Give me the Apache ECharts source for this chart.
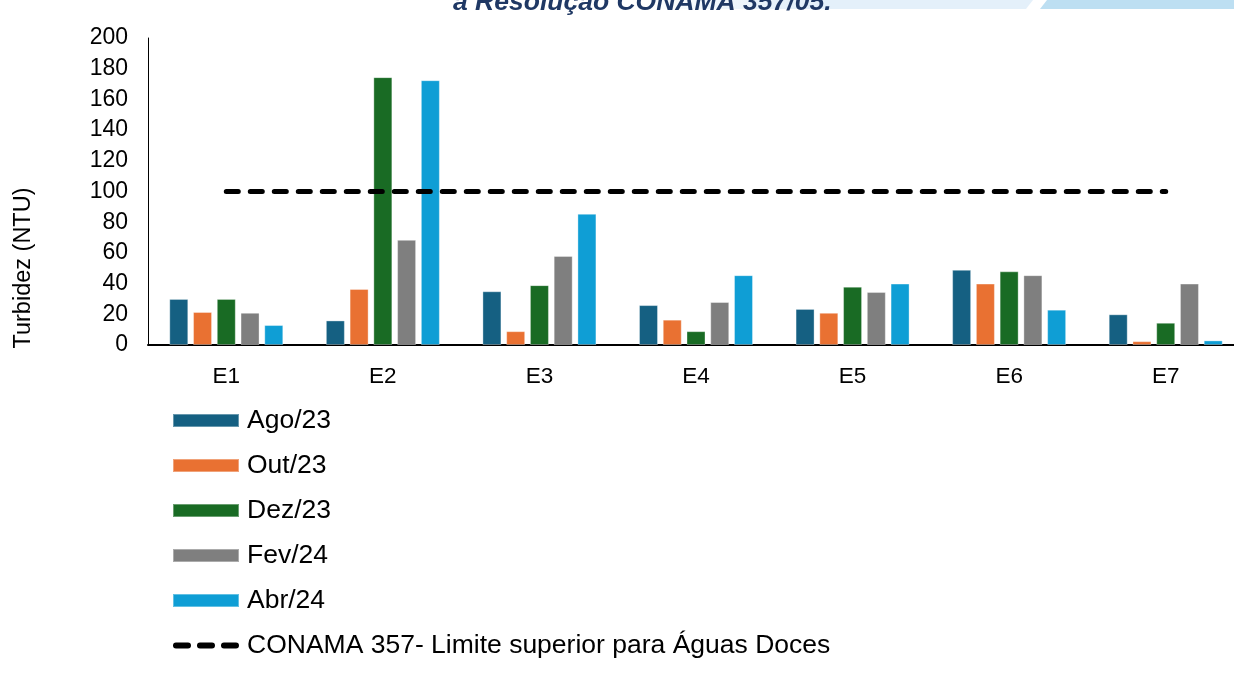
<!DOCTYPE html>
<html lang="pt">
<head>
    <meta charset="UTF-8">
    <title>Turbidez</title>
    <script type="text/javascript" src="https://cdn.jsdelivr.net/npm/echarts@6/dist/echarts.min.js"></script>
    <style>
        html, body { margin: 0; background: #fff; overflow: hidden; }
        #main { width: 1244px; height: 682px; }
    </style>
</head>
<body>
<div id="main"></div>
<script type="text/javascript">
    // estacoes e campanhas
    var estacoes = ['E1', 'E2', 'E3', 'E4', 'E5', 'E6', 'E7'];
    var ago23 = [30, 16, 35, 26, 23.5, 49, 20];
    var out23 = [21.5, 36.5, 9, 16.5, 21, 40, 2.5];
    var dez23 = [30, 174.5, 39, 9, 38, 48, 14.5];
    var fev24 = [21, 68.5, 58, 28, 34.5, 45.5, 40];
    var abr24 = [13, 172.5, 85.5, 45.5, 40, 23, 3];
    var conama = [100, 100, 100, 100, 100, 100, 100];
    var yTicks = [0, 200, 20]; // min, max, intervalo

    var font = 'Liberation Sans, Arial, sans-serif';

    // icone tracejado da legenda (3 tracos com pontas redondas)
    var tracos = 'path://M0,0L0.01,0L0,0Z M0,13L0.01,13L0,13Z' +
        ' M3,3.5h12a3,3 0 0 1 0,6h-12a3,3 0 0 1 0,-6z' +
        ' M27,3.5h12a3,3 0 0 1 0,6h-12a3,3 0 0 1 0,-6z' +
        ' M51,3.5h12a3,3 0 0 1 0,6h-12a3,3 0 0 1 0,-6z' +
        ' M66,0L66.01,0L66,0Z';

    function barra(nome, dados, cor) {
        return {
            name: nome,
            type: 'bar',
            data: dados,
            barWidth: 19,
            barGap: '25%',
            itemStyle: { color: cor, borderColor: 'rgba(255,255,255,0.35)', borderWidth: 1 }
        };
    }

    var chart = echarts.init(document.getElementById('main'));

    var option = {
        animation: false,
        textStyle: { fontFamily: font },
        grid: { left: 148, top: 38, width: 1096, height: 307 },
        graphic: [
            {
                type: 'polygon',
                shape: { points: [[640, 0], [1033, 0], [1026, 9], [640, 9]] },
                style: {
                    fill: new echarts.graphic.LinearGradient(0, 0, 1, 0, [
                        { offset: 0, color: 'rgba(228,240,250,0)' },
                        { offset: 0.38, color: '#e4f0fa' },
                        { offset: 1, color: '#e4f0fa' }
                    ])
                },
                silent: true
            },
            {
                type: 'polygon',
                shape: { points: [[1047, 0], [1244, 0], [1244, 9], [1040, 9]] },
                style: { fill: '#bddff2' },
                silent: true
            },
            {
                type: 'text',
                left: 453,
                top: -11,
                style: {
                    text: 'a Resolução CONAMA 357/05.',
                    font: 'italic bold 26.5px ' + font,
                    fill: '#1f3864'
                }
            },
            {
                type: 'text',
                x: 24,
                y: 268,
                rotation: Math.PI / 2,
                style: {
                    text: 'Turbidez (NTU)',
                    font: '23.5px ' + font,
                    fill: '#000',
                    align: 'center',
                    verticalAlign: 'middle'
                }
            }
        ],
        legend: {
            orient: 'vertical',
            left: 172,
            top: 407,
            padding: 0,
            itemWidth: 66,
            itemHeight: 13,
            itemGap: 18,
            textStyle: { fontSize: 26.5, color: '#000', lineHeight: 26, padding: [0, 0, 0, 3] },
            data: [
                { name: 'Ago/23', icon: 'rect' },
                { name: 'Out/23', icon: 'rect' },
                { name: 'Dez/23', icon: 'rect' },
                { name: 'Fev/24', icon: 'rect' },
                { name: 'Abr/24', icon: 'rect' },
                { name: 'CONAMA 357- Limite superior para Águas Doces', icon: tracos }
            ]
        },
        xAxis: {
            type: 'category',
            data: estacoes,
            axisLine: { lineStyle: { color: '#000', width: 2 } },
            axisTick: { show: false },
            axisLabel: { fontSize: 22.5, color: '#000', margin: 20 }
        },
        yAxis: {
            type: 'value',
            min: yTicks[0],
            max: yTicks[1],
            interval: yTicks[2],
            axisLine: { show: true, lineStyle: { color: '#000', width: 1 } },
            axisTick: { show: false },
            splitLine: { show: false },
            axisLabel: { fontSize: 23, color: '#000', margin: 20 }
        },
        series: [
            barra('Ago/23', ago23, '#156082'),
            barra('Out/23', out23, '#e97132'),
            barra('Dez/23', dez23, '#196b24'),
            barra('Fev/24', fev24, '#7f7f7f'),
            barra('Abr/24', abr24, '#0f9ed5'),
            {
                name: 'CONAMA 357- Limite superior para Águas Doces',
                type: 'line',
                data: conama,
                symbol: 'none',
                z: 5,
                lineStyle: { color: '#000', width: 5, type: [12, 12], cap: 'round' },
                itemStyle: { color: '#000' }
            }
        ]
    };

    chart.setOption(option);
</script>
</body>
</html>
